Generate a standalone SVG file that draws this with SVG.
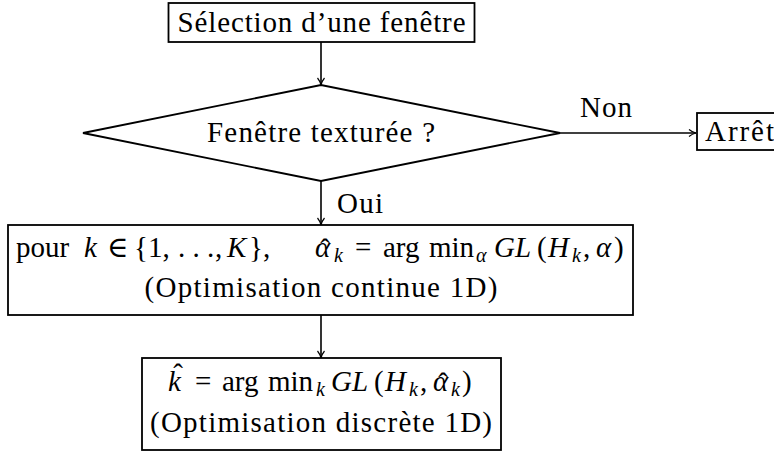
<svg xmlns="http://www.w3.org/2000/svg" width="774" height="454" viewBox="0 0 774 454">
<style>
.box{fill:#fff;stroke:#000;stroke-width:1.8}
.t{font-family:"Liberation Serif","DejaVu Serif",serif;font-size:29px;fill:#000}
.i{font-style:italic}
.s{font-size:20px;font-style:italic}
.m{text-anchor:middle}
.c{stroke:#000;stroke-width:1.6;fill:none}
</style>
<defs>
<marker id="ah" markerWidth="10" markerHeight="10" refX="8" refY="5" orient="auto" markerUnits="userSpaceOnUse">
<path d="M1,1.5 Q4,4 8,5 Q4,6 1,8.5" fill="none" stroke="#000" stroke-width="1.2"/>
</marker>
</defs>
<g id="connectors">
<line class="c" x1="321" y1="42" x2="321" y2="85" marker-end="url(#ah)"/>
<line class="c" x1="560" y1="133" x2="696" y2="133" marker-end="url(#ah)"/>
<line class="c" x1="321" y1="181" x2="321" y2="225" marker-end="url(#ah)"/>
<line class="c" x1="321" y1="315" x2="321" y2="358" marker-end="url(#ah)"/>
<text class="t m" x="606" y="117" textLength="52">Non</text>
<text class="t" x="337" y="213" textLength="46">Oui</text>
</g>
<g id="selection">
<rect class="box" x="168.5" y="3" width="306" height="39"/>
<text class="t m" x="321.5" y="32" textLength="288">Sélection d’une fenêtre</text>
</g>
<g id="decision">
<polygon class="box" points="83,133 321,85 560,133 321,181"/>
<text class="t m" x="321" y="142" textLength="228">Fenêtre texturée ?</text>
</g>
<g id="arret">
<rect class="box" x="697" y="113" width="100" height="37"/>
<text class="t" x="705" y="141" textLength="69">Arrêt</text>
</g>
<g id="optim-continue">
<rect class="box" x="8" y="225" width="625" height="90"/>
<text class="t" y="257"><tspan x="16">pour</tspan><tspan class="i" x="84">k</tspan><tspan x="107">∈</tspan><tspan x="134">{1,</tspan><tspan x="178">. . .</tspan><tspan x="215">,</tspan><tspan class="i" x="227">K</tspan><tspan x="249">},</tspan><tspan class="i" x="315">α</tspan><tspan class="s" x="334" y="262">k</tspan><tspan x="355" y="257">=</tspan><tspan x="383">arg</tspan><tspan x="429">min</tspan><tspan class="s" x="476" y="262">α</tspan><tspan class="i" x="494" y="257">GL</tspan><tspan x="537">(</tspan><tspan class="i" x="548">H</tspan><tspan class="s" x="572" y="262">k</tspan><tspan x="583" y="257">,</tspan><tspan class="i" x="596">α</tspan><tspan x="614">)</tspan></text>
<text class="t m" x="325" y="259">ˆ</text>
<text class="t m" x="321" y="297" textLength="353">(Optimisation continue 1D)</text>
</g>
<g id="optim-discrete">
<rect class="box" x="142" y="358" width="359" height="92"/>
<text class="t" y="391"><tspan class="i" x="168">k</tspan><tspan x="195">=</tspan><tspan x="222">arg</tspan><tspan x="268">min</tspan><tspan class="s" x="316" y="396">k</tspan><tspan class="i" x="331" y="391">GL</tspan><tspan x="374">(</tspan><tspan class="i" x="385">H</tspan><tspan class="s" x="409" y="396">k</tspan><tspan x="420" y="391">,</tspan><tspan class="i" x="433">α</tspan><tspan class="s" x="451" y="396">k</tspan><tspan x="462" y="391">)</tspan></text>
<text class="t m" x="178" y="384">ˆ</text>
<text class="t m" x="443" y="393">ˆ</text>
<text class="t m" x="321" y="432" textLength="342">(Optimisation discrète 1D)</text>
</g>
</svg>
